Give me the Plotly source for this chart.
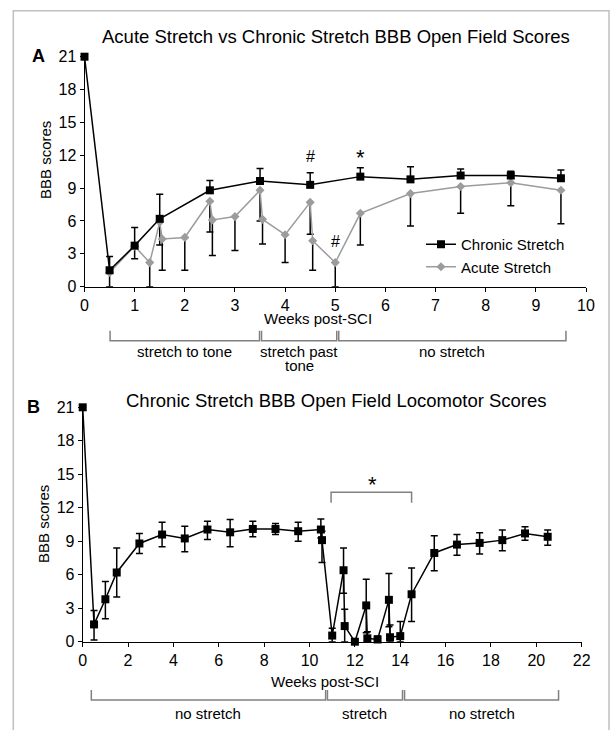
import plotly.graph_objects as go

W, H = 610, 730
FONT = "Arial, Liberation Sans, sans-serif"

# ---------------- Panel A data ----------------
a_chronic_x = [0, 0.5, 1, 1.5, 2.5, 3.5, 4.5, 5.5, 6.5, 7.5, 8.5, 9.5]
a_chronic_y = [21, 1.5, 3.75, 6.2, 8.8, 9.65, 9.3, 10.05, 9.8, 10.15, 10.15, 9.9]
a_chronic_hi = [21, 2.75, 5.4, 8.45, 9.7, 10.8, 10.4, 10.85, 10.95, 10.75, 10.55, 10.65]

a_acute_x = [0.5, 1.0, 1.3, 1.5, 1.55, 2.0, 2.5, 2.55, 3.0, 3.5, 3.55, 4.0, 4.5, 4.55, 5.0, 5.5, 6.5, 7.5, 8.5, 9.5]
a_acute_y = [1.3, 3.7, 2.2, 5.9, 4.35, 4.5, 7.8, 6.1, 6.4, 8.8, 6.15, 4.75, 7.7, 4.2, 2.2, 6.7, 8.5, 9.15, 9.5, 8.8]
a_acute_lo = [0, 2.55, 0, 3.8, 1.5, 1.5, 5.0, 2.85, 3.3, 6.0, 3.9, 2.2, 4.8, 1.5, 0, 3.8, 5.55, 6.7, 7.4, 5.75]

a_phases = [(["stretch to tone"], 0.51, 3.49), (["stretch past", "tone"], 3.53, 5.03), (["no stretch"], 5.07, 9.6)]
a_marks = [("#", 4.5, 11.9, 16), ("*", 5.5, 11.8, 22), ("#", 5.0, 4.1, 16)]

# ---------------- Panel B data ----------------
b_x = [0, 0.5, 1, 1.5, 2.5, 3.5, 4.5, 5.5, 6.5, 7.5, 8.5, 9.5, 10.5, 10.55, 11, 11.5, 11.55, 12,
       12.5, 12.55, 13, 13.5, 13.55, 14, 14.5, 15.5, 16.5, 17.5, 18.5, 19.5, 20.5]
b_y = [21, 1.55, 3.8, 6.2, 8.8, 9.6, 9.25, 10.05, 9.8, 10.1, 10.1, 9.9, 10.05, 9.1, 0.55, 6.4, 1.4, 0,
       3.25, 0.3, 0.2, 3.75, 0.4, 0.5, 4.25, 7.95, 8.7, 8.85, 9.1, 9.7, 9.4]
b_hi = [21, 2.8, 5.4, 8.4, 9.7, 10.7, 10.35, 10.8, 10.95, 10.8, 10.6, 10.7, 11.0, 9.9, 1.2, 8.4, 2.9, 0,
        5.6, 0.9, 0.5, 6.1, 1.5, 1.8, 6.6, 9.5, 9.6, 9.75, 10.0, 10.3, 10.0]
b_lo = [21, 0.15, 2.05, 4.0, 7.9, 8.5, 8.05, 9.15, 8.5, 9.4, 9.6, 9.0, 9.3, 7.1, 0, 4.35, 0, 0,
        0.8, 0, 0, 1.35, 0, 0, 1.8, 6.35, 7.75, 7.85, 8.15, 9.1, 8.65]

b_phases = [(["no stretch"], 0.38, 10.71), (["stretch"], 10.79, 14.1), (["no stretch"], 14.19, 20.98)]
b_sig = ("*", 10.95, 14.5, 13.4, 12.45, 14.1)

# ---------------- layout geometry (pixels) ----------------
def px(xp):
    return xp / W

def py(yp):
    return 1 - yp / H

A_X = [px(84.5), px(586)]
A_Y = [py(286.7), py(56.7)]
B_X = [px(82.7), px(581.7)]
B_Y = [py(641.7), py(407.3)]


def err_segments(xs, ys, ends, cap):
    sx, sy = [], []
    for x, y, e in zip(xs, ys, ends):
        if abs(e - y) < 1e-9:
            continue
        sx += [x, x, None, x - cap, x + cap, None]
        sy += [y, e, None, e, e, None]
    return sx, sy


fig = go.Figure()

# Panel A error bars
cap_a = 3.5 / 50.15
ex, ey = err_segments(a_chronic_x, a_chronic_y, a_chronic_hi, cap_a)
fig.add_trace(go.Scatter(x=ex, y=ey, mode="lines", line=dict(color="black", width=1.5),
                         showlegend=False, hoverinfo="skip", xaxis="x", yaxis="y", cliponaxis=False))
ex, ey = err_segments(a_acute_x, a_acute_y, a_acute_lo, cap_a)
fig.add_trace(go.Scatter(x=ex, y=ey, mode="lines", line=dict(color="black", width=1.5),
                         showlegend=False, hoverinfo="skip", xaxis="x", yaxis="y", cliponaxis=False))

fig.add_trace(go.Scatter(x=a_acute_x, y=a_acute_y, mode="lines+markers", name="Acute Stretch",
                         line=dict(color="#9c9c9c", width=1.5),
                         marker=dict(symbol="diamond", size=7, color="#9c9c9c"),
                         xaxis="x", yaxis="y", cliponaxis=False))
fig.add_trace(go.Scatter(x=a_chronic_x, y=a_chronic_y, mode="lines+markers", name="Chronic Stretch",
                         line=dict(color="black", width=1.5),
                         marker=dict(symbol="square", size=8, color="black"),
                         xaxis="x", yaxis="y", cliponaxis=False))

# Panel B
cap_b = 3.5 / 22.68
ex, ey = err_segments(b_x, b_y, b_hi, cap_b)
ex2, ey2 = err_segments(b_x, b_y, b_lo, cap_b)
fig.add_trace(go.Scatter(x=ex + ex2, y=ey + ey2, mode="lines", line=dict(color="black", width=1.5),
                         showlegend=False, hoverinfo="skip", xaxis="x2", yaxis="y2", cliponaxis=False))
fig.add_trace(go.Scatter(x=b_x, y=b_y, mode="lines+markers", name="Chronic Stretch B",
                         line=dict(color="black", width=1.5),
                         marker=dict(symbol="square", size=8, color="black"),
                         showlegend=False, xaxis="x2", yaxis="y2", cliponaxis=False))

axis_common = dict(showline=True, linecolor="black", linewidth=1, ticks="outside", ticklen=4,
                   tickcolor="black", tickwidth=1, showgrid=False, zeroline=False,
                   tickfont=dict(family=FONT, size=16, color="black"), fixedrange=True)

annotations = []
shapes = []

# Titles and panel letters
annotations.append(dict(text="Acute Stretch vs Chronic Stretch BBB Open Field Scores", xref="paper", yref="paper",
                        x=px(336), y=py(37), showarrow=False, font=dict(family=FONT, size=18.5, color="black"),
                        xanchor="center", yanchor="middle"))
annotations.append(dict(text="Chronic Stretch BBB Open Field Locomotor Scores", xref="paper", yref="paper",
                        x=px(336.7), y=py(400), showarrow=False, font=dict(family=FONT, size=18.5, color="black"),
                        xanchor="center", yanchor="middle"))
annotations.append(dict(text="<b>A</b>", xref="paper", yref="paper", x=px(38), y=py(56), showarrow=False,
                        font=dict(family=FONT, size=18, color="black"), xanchor="center", yanchor="middle"))
annotations.append(dict(text="<b>B</b>", xref="paper", yref="paper", x=px(33), y=py(407), showarrow=False,
                        font=dict(family=FONT, size=18, color="black"), xanchor="center", yanchor="middle"))

# Axis titles
for (xx, yy) in [(45, 160), (43, 524)]:
    annotations.append(dict(text="BBB scores", xref="paper", yref="paper", x=px(xx), y=py(yy), showarrow=False,
                            textangle=-90, font=dict(family=FONT, size=15, color="black"),
                            xanchor="center", yanchor="middle"))
for (xx, yy) in [(318, 319), (325, 681)]:
    annotations.append(dict(text="Weeks post-SCI", xref="paper", yref="paper", x=px(xx), y=py(yy), showarrow=False,
                            font=dict(family=FONT, size=15, color="black"), xanchor="center", yanchor="middle"))

# Significance marks panel A
for t, xx, yy, sz in a_marks:
    annotations.append(dict(text=t, xref="x", yref="y", x=xx, y=yy, showarrow=False,
                            font=dict(family=FONT, size=sz, color="#000000"), xanchor="center", yanchor="middle"))

# Significance bracket panel B
t, x0, x1, ytop, ytick, ytext = b_sig
shapes.append(dict(type="path", xref="x2", yref="y2",
                   path=f"M {x0},{ytick} L {x0},{ytop} L {x1},{ytop} L {x1},{ytick}",
                   line=dict(color="#808080", width=1.5)))
annotations.append(dict(text=t, xref="x2", yref="y2", x=(x0 + x1) / 2 + 0.05, y=ytext, showarrow=False,
                        font=dict(family=FONT, size=22, color="black"), xanchor="center", yanchor="middle"))

# Phase brackets
def add_phases(phases, xref, line_y, tick_y, text_y, line_gap=14.3):
    for lines, x0, x1 in phases:
        shapes.append(dict(type="path", xref=xref, yref="paper",
                           path=f"M {x0},{py(tick_y)} L {x0},{py(line_y)} L {x1},{py(line_y)} L {x1},{py(tick_y)}",
                           line=dict(color="#808080", width=1.5)))
        for i, label in enumerate(lines):
            annotations.append(dict(text=label, xref=xref, yref="paper", x=(x0 + x1) / 2,
                                    y=py(text_y + i * line_gap),
                                    showarrow=False, font=dict(family=FONT, size=15, color="black"),
                                    xanchor="center", yanchor="middle"))

add_phases(a_phases, "x", 340.7, 330.7, 351)
add_phases(b_phases, "x2", 700, 690, 713)

# Outer frame
shapes.append(dict(type="rect", xref="paper", yref="paper", x0=px(13.3), x1=px(609), y0=-0.1, y1=py(10.7),
                   line=dict(color="#c0c0c0", width=1.5)))

fig.update_layout(
    width=W, height=H,
    margin=dict(l=0, r=0, t=0, b=0, autoexpand=False),
    paper_bgcolor="white", plot_bgcolor="white",
    font=dict(family=FONT, size=15, color="black"),
    xaxis=dict(domain=A_X, range=[0, 10], dtick=1, anchor="y", **axis_common),
    yaxis=dict(domain=A_Y, range=[0, 21], dtick=3, anchor="x", **axis_common),
    xaxis2=dict(domain=B_X, range=[0, 22], dtick=2, anchor="y2", **axis_common),
    yaxis2=dict(domain=B_Y, range=[0, 21], dtick=3, anchor="x2", **axis_common),
    legend=dict(x=px(421), y=py(228), xanchor="left", yanchor="top", traceorder="reversed",
                font=dict(family=FONT, size=15, color="black"), bgcolor="rgba(0,0,0,0)",
                borderwidth=0, tracegroupgap=0),
    annotations=annotations,
    shapes=shapes,
    showlegend=True,
)

fig.write_html("out.html", config={"displayModeBar": False},
               post_script="document.body.style.margin='0px';document.body.style.overflow='hidden';")
